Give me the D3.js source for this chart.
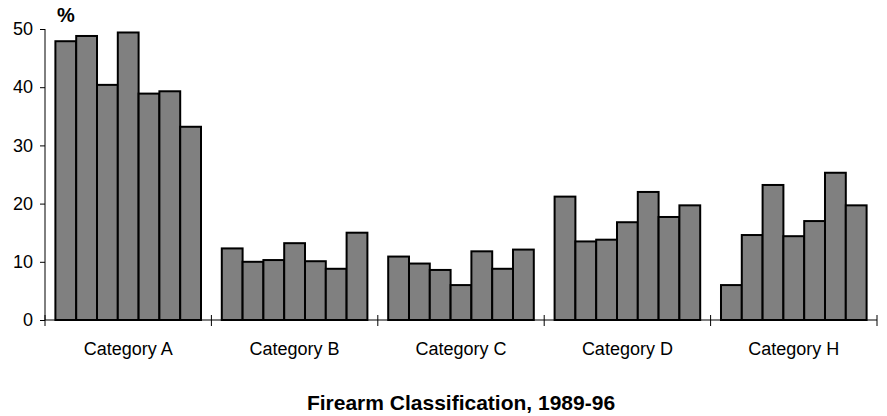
<!DOCTYPE html>
<html>
<head>
<meta charset="utf-8">
<script src="https://cdn.jsdelivr.net/npm/d3@7"></script>
<style>
  html, body { margin: 0; padding: 0; background: #fff; }
  svg { display: block; }
  text { font-family: "Liberation Sans", Arial, Helvetica, sans-serif; fill: #000; }
</style>
</head>
<body>
<svg id="chart" width="887" height="416"></svg>
<script>
const categories = ["Category A", "Category B", "Category C", "Category D", "Category H"];
const years = ["1990", "1991", "1992", "1993", "1994", "1995", "1996"];
const valuesA = [47.9, 48.8, 40.4, 49.4, 38.9, 39.3, 33.2];
const valuesB = [12.3, 10.0, 10.3, 13.2, 10.1, 8.8, 15.0];
const valuesC = [10.9, 9.7, 8.6, 6.0, 11.8, 8.8, 12.1];
const valuesD = [21.2, 13.5, 13.8, 16.8, 22.0, 17.7, 19.7];
const valuesH = [6.0, 14.6, 23.2, 14.4, 17.0, 25.3, 19.7];
const yTicks = [0, 10, 20, 30, 40, 50];
const yUnit = "%";
const xTitle = "Firearm Classification, 1989-96";

const series = [valuesA, valuesB, valuesC, valuesD, valuesH];
const data = categories.map((c, i) => ({ category: c, values: series[i] }));

const svg = d3.select("#chart");
const mLeft = 45, mRight = 877, mTop = 29, mBottom = 320;

const x = d3.scaleBand().domain(categories).range([mLeft, mRight]).padding(0);
const xi = d3.scaleBand().domain(years).range([0, x.bandwidth()]).paddingInner(0).paddingOuter(0.5);
const y = d3.scaleLinear().domain([0, 50]).range([mBottom, mTop]);

// bars
const groups = svg.selectAll("g.cat").data(data).join("g")
  .attr("class", "cat")
  .attr("transform", d => `translate(${x(d.category)},0)`);

groups.selectAll("rect").data(d => d.values.map((v, j) => ({ year: years[j], v })))
  .join("rect")
  .attr("x", d => xi(d.year))
  .attr("y", d => y(d.v))
  .attr("width", xi.bandwidth())
  .attr("height", d => y(0) - y(d.v))
  .attr("fill", "#808080")
  .attr("stroke", "#000")
  .attr("stroke-width", 2);

// y axis
const yAxis = d3.axisLeft(y).tickValues(yTicks).tickSize(5).tickPadding(7);
const gy = svg.append("g").attr("transform", `translate(${mLeft},0)`).call(yAxis);
gy.select(".domain").attr("d", `M0,${mTop}V${mBottom}`).attr("stroke", "#000");
gy.selectAll(".tick line").attr("stroke", "#000");
gy.selectAll(".tick text").style("font-size", "18px").attr("fill", "#000")
  .style("font-family", '"Liberation Sans", Arial, sans-serif');

// x axis
const xEdges = categories.map(c => x(c)).concat([x(categories[categories.length - 1]) + x.bandwidth()]);
const gx = svg.append("g");
gx.append("line").attr("x1", mLeft).attr("x2", mRight).attr("y1", y(0)).attr("y2", y(0))
  .attr("stroke", "#000").attr("stroke-width", 1);
gx.selectAll("line.xt").data(xEdges).join("line").attr("class", "xt")
  .attr("x1", d => d).attr("x2", d => d)
  .attr("y1", y(0) - 5).attr("y2", y(0) + 6)
  .attr("stroke", "#000").attr("stroke-width", 1);
gx.selectAll("text.cl").data(categories).join("text").attr("class", "cl")
  .attr("x", d => x(d) + x.bandwidth() / 2)
  .attr("y", 355)
  .attr("text-anchor", "middle")
  .style("font-size", "18px")
  .text(d => d);

// unit label
svg.append("text").attr("x", 57).attr("y", 22)
  .style("font-size", "20px").style("font-weight", "bold")
  .text(yUnit);

// title
svg.append("text").attr("x", (mLeft + mRight) / 2).attr("y", 410)
  .attr("text-anchor", "middle")
  .style("font-size", "21px").style("font-weight", "bold")
  .text(xTitle);
</script>
</body>
</html>
